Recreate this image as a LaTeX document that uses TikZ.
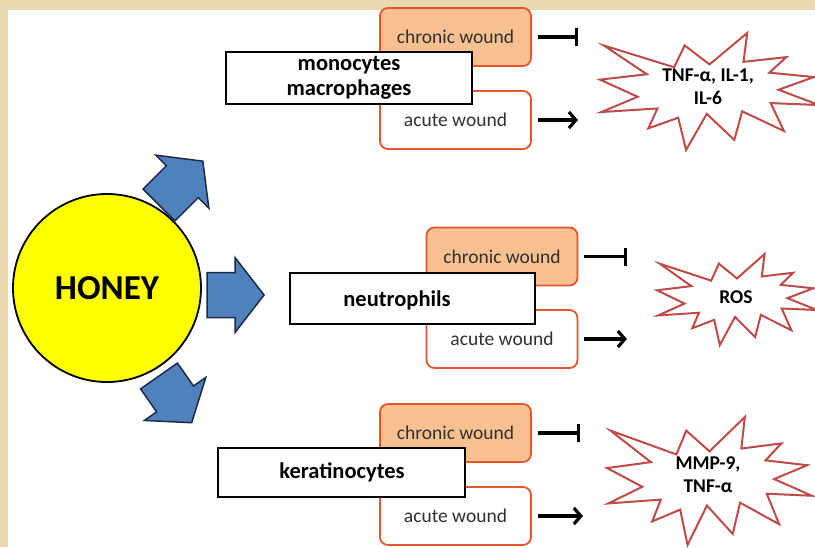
\documentclass[tikz,border=0pt]{standalone}
\usepackage{fontspec}
\setmainfont{Carlito}
\usetikzlibrary{arrows.meta}
\definecolor{parch}{HTML}{EAD9B0}
\definecolor{honeyY}{HTML}{FFFF00}
\definecolor{blueF}{HTML}{4F81BD}
\definecolor{blueD}{HTML}{1B2A47}
\definecolor{orF}{HTML}{FAC090}
\definecolor{orD}{HTML}{E4572E}
\definecolor{burstD}{HTML}{BE4B48}
\definecolor{woundT}{HTML}{303030}
\newcommand\burstpath{(0.5,0.2685) -- (0.6723,0) -- (0.6553,0.2465) -- (0.8509,0.2063) -- (0.7732,0.3387) -- (0.9767,0.3767) -- (0.8151,0.4850) -- (1,0.6153) -- (0.7795,0.5992) -- (0.8400,0.8377) -- (0.6491,0.6693) -- (0.6133,0.9137) -- (0.4876,0.6914) -- (0.3928,1) -- (0.3572,0.7235) -- (0.2205,0.8156) -- (0.2624,0.6452) -- (0.00625,0.6753) -- (0.1723,0.5451) -- (0,0.3988) -- (0.2142,0.3526) -- (0.0171,0.1063) -- (0.3385,0.2926) -- (0.3867,0.1063) -- cycle}
\newcommand\blockarrow[4]{% x, y, rotation, length
  \begin{scope}[shift={(#1,#2)}, rotate=#3]
    \draw[barrow] (0,-22.5) -- ({#4-29},-22.5) -- ({#4-29},-37.5) -- (#4,0) -- ({#4-29},37.5) -- ({#4-29},22.5) -- (0,22.5) -- cycle;
  \end{scope}}
\newcommand\burstshape[4]{% left, top, width, height
  \begin{scope}[shift={(#1,#2)}, xscale=#3, yscale=#4]
    \draw[burst] \burstpath;
  \end{scope}}
\tikzset{
  barrow/.style={fill=blueF, draw=blueD, line width=1.5pt, line join=miter},
  burst/.style={fill=white, draw=burstD, line width=2pt, line join=miter},
  chronicbox/.style={draw=orD, fill=orF, line width=1.8pt, rounded corners=8pt, minimum width=151pt, minimum height=58pt, text=woundT, font=\fontsize{19.5}{22}\selectfont},
  acutebox/.style={draw=orD, fill=white, line width=1.8pt, rounded corners=8pt, minimum width=151pt, minimum height=58pt, text=woundT, font=\fontsize{19.5}{22}\selectfont},
  cellbox/.style={draw=black, fill=white, line width=2pt, inner sep=0pt},
  celltext/.style={font=\bfseries\fontsize{22.5}{24.5}\selectfont, align=center, text=black},
  bursttext/.style={font=\bfseries\fontsize{19.5}{23}\selectfont, align=center, text=black},
  inhib/.style={line width=3.2pt, -{Bar[width=18pt]}, shorten <=6pt},
  act/.style={line width=3.2pt, -{Straight Barb[length=7pt,width=16pt]}, shorten <=6pt},
}
\begin{document}
\begin{tikzpicture}[x=1pt,y=-1pt]
\useasboundingbox (0,0) rectangle (815,547);
\fill[parch] (0,0) rectangle (815,547);
\fill[white] (8,10) rectangle (815,547);

% honey
\node[circle, draw=black, fill=honeyY, line width=1.8pt, minimum size=188pt, inner sep=0pt,
      font=\bfseries\fontsize{35}{38}\selectfont] (honey) at (107,288) {HONEY};

% block arrows
\blockarrow{159}{205}{45}{62}
\blockarrow{207}{295}{0}{57}
\blockarrow{159}{376}{-55}{57}

% group 1
\node[chronicbox] (c1) at (455.5,37) {chronic wound};
\node[acutebox] (a1) at (455.5,120) {acute wound};
\node[cellbox, minimum width=246pt, minimum height=52pt] (m1) at (349,78) {};
\node[celltext] (m1t) at (349,78) {monocytes\\macrophages};
\coordinate (i1) at (578,37);
\coordinate (e1) at (578,120);
\draw[inhib] (c1) -- (i1);
\draw[act] (a1) -- (e1);
\burstshape{600}{33}{219}{117}
\node[bursttext] (b1) at (708,87) {TNF-α, IL-1,\\IL-6};

% group 2
\node[chronicbox] (c2) at (502,256.5) {chronic wound};
\node[acutebox] (a2) at (502,339) {acute wound};
\node[cellbox, minimum width=245pt, minimum height=51pt] (m2) at (412.5,298.5) {};
\node[celltext] (m2t) at (397,300) {neutrophils};
\coordinate (i2) at (627,256.5);
\coordinate (e2) at (627,339);
\draw[inhib] (c2) -- (i2);
\draw[act] (a2) -- (e2);
\burstshape{657}{254}{160}{91}
\node[bursttext] (b2) at (736,297) {ROS};

% group 3
\node[chronicbox] (c3) at (455.5,433) {chronic wound};
\node[acutebox] (a3) at (455.5,516) {acute wound};
\node[cellbox, minimum width=247pt, minimum height=49pt] (m3) at (341.5,472.5) {};
\node[celltext] (m3t) at (342,472.5) {keratinocytes};
\coordinate (i3) at (580,433);
\coordinate (e3) at (583,516);
\draw[inhib] (c3) -- (i3);
\draw[act] (a3) -- (e3);
\burstshape{607}{417}{205}{128}
\node[bursttext] (b3) at (708,475) {MMP-9,\\TNF-α};
\end{tikzpicture}
\end{document}
